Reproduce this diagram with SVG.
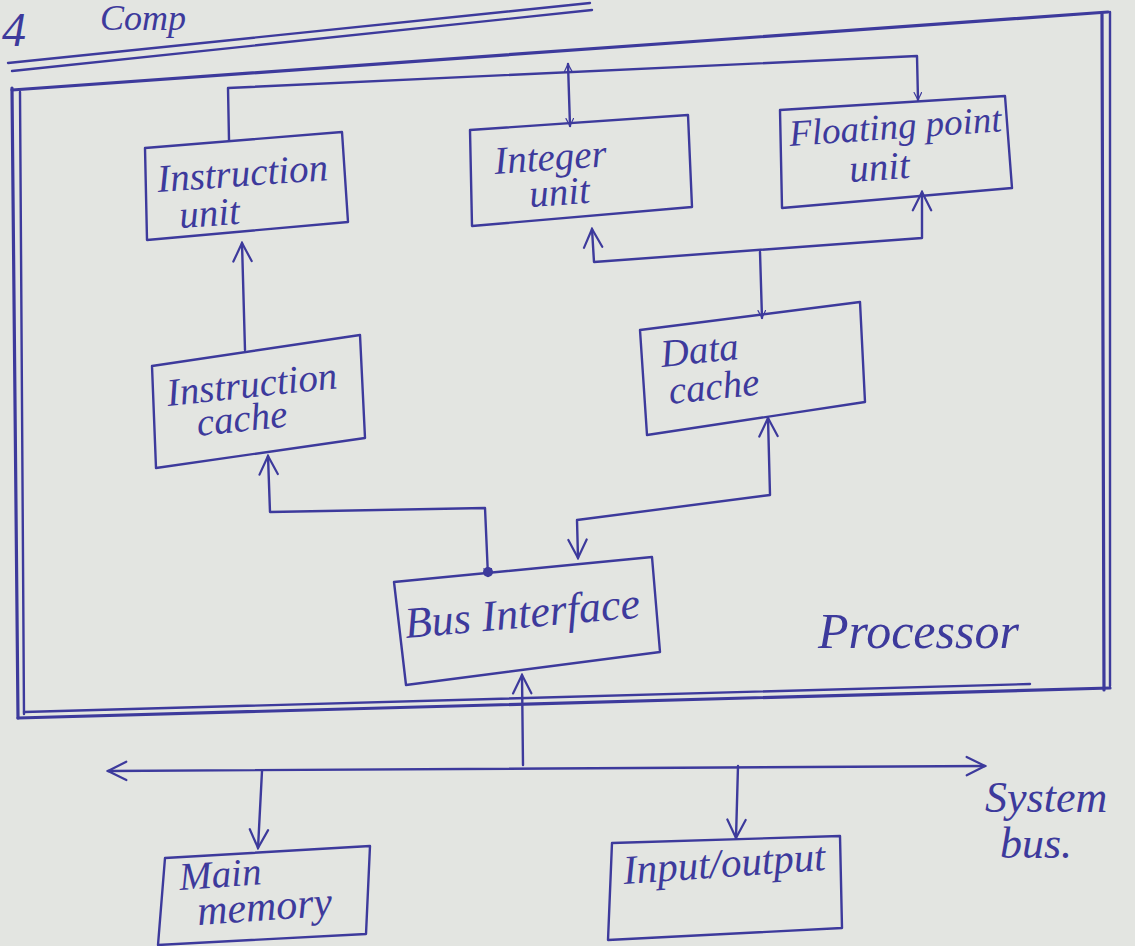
<svg xmlns="http://www.w3.org/2000/svg" width="1135" height="946" viewBox="0 0 1135 946">
  <defs>
    <style>
      .ink { fill: none; stroke: #3d3a9c; stroke-width: 2.4; stroke-linecap: round; stroke-linejoin: round; }
      .thick { stroke-width: 3.2; }
      .box { fill: none; stroke: #3d3a9c; stroke-width: 2.4; stroke-linejoin: round; }
      .hand { font-family: "Liberation Serif", "DejaVu Serif", serif; font-style: italic; fill: #3d3a9c; }
      .lbl { font-size: 39px; }
    </style>
    <marker id="arr" viewBox="0 0 12 12" refX="11" refY="6" markerWidth="9" markerHeight="9" markerUnits="userSpaceOnUse" orient="auto-start-reverse">
      <path d="M1,1 L11,6 L1,11" fill="none" stroke="#3d3a9c" stroke-width="1.6" stroke-linecap="round"/>
    </marker>
    <marker id="arrL" viewBox="0 0 12 12" refX="11" refY="6" markerWidth="22" markerHeight="22" markerUnits="userSpaceOnUse" orient="auto-start-reverse">
      <path d="M1,1 L11,6 L1,11" fill="none" stroke="#3d3a9c" stroke-width="1.2" stroke-linecap="round"/>
    </marker>
  </defs>

  <rect x="0" y="0" width="1135" height="946" fill="#e3e5e1"/>

  <g id="heading">
    <text class="hand" x="2" y="46" font-size="48px" font-style="normal" font-family="Liberation Sans, sans-serif">4</text>
    <text class="hand" x="100" y="30" font-size="36px">Comp</text>
    <path class="ink" d="M8,63 L590,3"/>
    <path class="ink" d="M12,71 L592,10"/>
  </g>

  <g id="processor">
    <path class="ink thick" d="M12,90 L1108,12"/>
    <path class="ink thick" d="M12,88 L18,718"/>
    <path class="ink" d="M20,92 L24,714"/>
    <path class="ink thick" d="M18,718 L1110,688"/>
    <path class="ink" d="M24,712 L1030,684"/>
    <path class="ink thick" d="M1102,14 L1104,690"/>
    <path class="ink" d="M1110,12 L1110,686"/>
    <text class="hand" x="818" y="648" font-size="50px">Processor</text>
  </g>

  <g id="instruction-unit">
    <polygon class="box" points="145,148 342,132 348,222 147,240"/>
    <text class="hand lbl" x="158" y="192" transform="rotate(-4 158 192)">Instruction</text>
    <text class="hand lbl" x="180" y="228" transform="rotate(-4 180 228)">unit</text>
  </g>

  <g id="integer-unit">
    <polygon class="box" points="470,130 688,115 692,207 472,226"/>
    <text class="hand lbl" x="495" y="174" transform="rotate(-4 495 174)">Integer</text>
    <text class="hand lbl" x="530" y="207" transform="rotate(-4 530 207)">unit</text>
  </g>

  <g id="floating-point-unit">
    <polygon class="box" points="780,110 1005,96 1012,188 782,208"/>
    <text class="hand" x="790" y="146" font-size="37px" transform="rotate(-4 790 146)">Floating point</text>
    <text class="hand lbl" x="850" y="182" transform="rotate(-4 850 182)">unit</text>
  </g>

  <g id="instruction-cache">
    <polygon class="box" points="152,366 360,335 365,438 156,468"/>
    <text class="hand lbl" x="168" y="406" transform="rotate(-6 168 406)">Instruction</text>
    <text class="hand lbl" x="198" y="436" transform="rotate(-6 198 436)">cache</text>
  </g>

  <g id="data-cache">
    <polygon class="box" points="640,330 860,302 865,402 647,435"/>
    <text class="hand lbl" x="662" y="367" transform="rotate(-6 662 367)">Data</text>
    <text class="hand lbl" x="670" y="404" transform="rotate(-6 670 404)">cache</text>
  </g>

  <g id="bus-interface">
    <polygon class="box" points="394,582 652,557 660,652 406,685"/>
    <text class="hand" x="406" y="638" font-size="44px" transform="rotate(-5 406 638)">Bus Interface</text>
  </g>

  <g id="main-memory">
    <polygon class="box" points="165,858 370,846 366,934 158,945"/>
    <text class="hand lbl" x="180" y="890" transform="rotate(-4 180 890)">Main</text>
    <text class="hand" x="198" y="925" font-size="42px" transform="rotate(-4 198 925)">memory</text>
  </g>

  <g id="input-output">
    <polygon class="box" points="612,843 840,836 842,928 608,940"/>
    <text class="hand" x="624" y="884" font-size="41px" transform="rotate(-4 624 884)">Input/output</text>
  </g>

  <g id="system-bus-label">
    <text class="hand" x="985" y="812" font-size="44px">System</text>
    <text class="hand" x="1000" y="858" font-size="44px">bus.</text>
  </g>

  <g id="connectors">
    <path class="ink" d="M229,140 L228,88 L917,56 L918,100" marker-end="url(#arr)"/>
    <path class="ink" d="M568,64 L570,126" marker-start="url(#arr)" marker-end="url(#arr)"/>
    <path class="ink" d="M592,229 L594,262 L922,238 L922,192" marker-start="url(#arrL)" marker-end="url(#arrL)"/>
    <path class="ink" d="M760,252 L762,318" marker-end="url(#arr)"/>
    <path class="ink" d="M245,350 L242,243" marker-end="url(#arrL)"/>
    <path class="ink" d="M268,456 L270,512 L485,508 L488,576" marker-start="url(#arrL)" marker-end="url(#arr)"/>
    <circle cx="488" cy="572" r="5" fill="#3d3a9c"/>
    <path class="ink" d="M768,418 L770,495 L577,520 L578,558" marker-start="url(#arrL)" marker-end="url(#arrL)"/>
    <path class="ink" d="M522,675 L523,765" marker-start="url(#arrL)"/>
    <path class="ink" d="M108,771 L985,766" marker-start="url(#arrL)" marker-end="url(#arrL)"/>
    <path class="ink" d="M262,771 L258,848" marker-end="url(#arrL)"/>
    <path class="ink" d="M738,766 L736,838" marker-end="url(#arrL)"/>
  </g>
</svg>
